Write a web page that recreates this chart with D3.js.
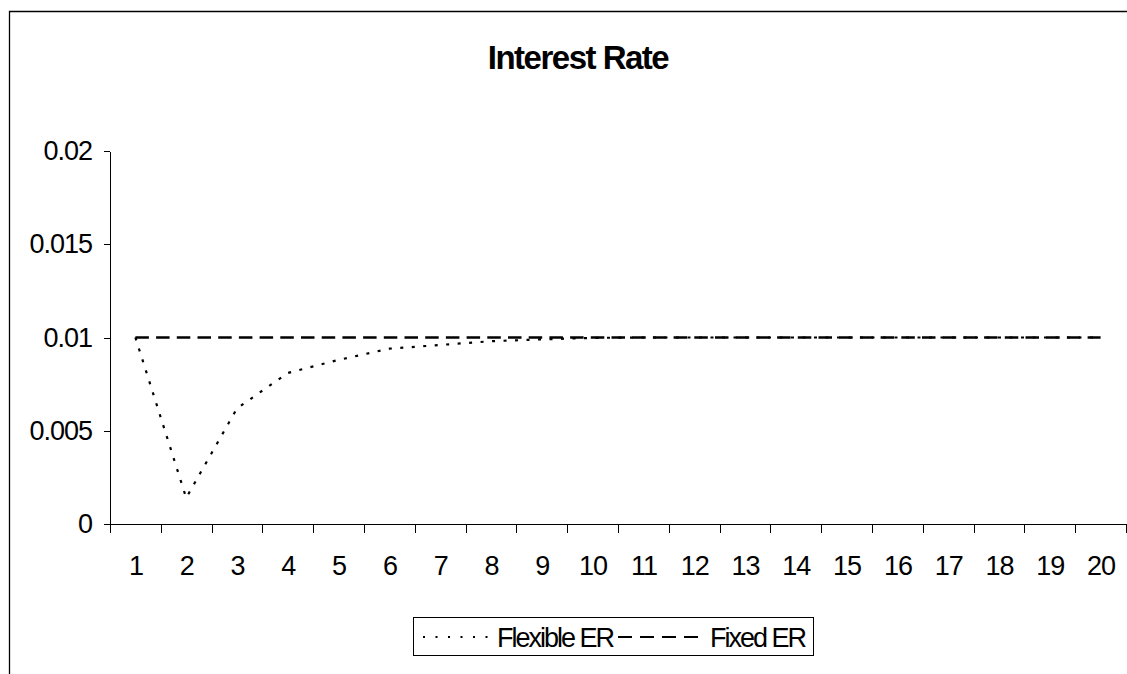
<!DOCTYPE html>
<html>
<head>
<meta charset="utf-8">
<script src="https://cdn.jsdelivr.net/npm/d3@7/dist/d3.min.js"></script>
<style>
  html, body { margin: 0; padding: 0; background: #fff; }
  svg { display: block; font-family: "Liberation Sans", Arial, sans-serif; }
</style>
</head>
<body>
<svg id="chart" width="1127" height="674"></svg>
<script>
// Periods shown along the horizontal axis
const periods = ["1","2","3","4","5","6","7","8","9","10","11","12","13","14","15","16","17","18","19","20"];

// Interest-rate paths under the two exchange-rate regimes
const flexibleER = [0.01, 0.0014, 0.0062, 0.0081, 0.0088, 0.0094, 0.0096, 0.0098, 0.0099, 0.00998,
                    0.01, 0.01, 0.01, 0.01, 0.01, 0.01, 0.01, 0.01, 0.01, 0.01];
const fixedER    = [0.01, 0.01, 0.01, 0.01, 0.01, 0.01, 0.01, 0.01, 0.01, 0.01,
                    0.01, 0.01, 0.01, 0.01, 0.01, 0.01, 0.01, 0.01, 0.01, 0.01];

const yTickValues = [0, 0.005, 0.01, 0.015, 0.02];
const yTickLabels = ["0", "0.005", "0.01", "0.015", "0.02"];

const seriesNames = ["Flexible ER", "Fixed ER"];
const chartTitle = "Interest Rate";

const svg = d3.select("#chart");

// Outer chart frame (top and left edges visible)
svg.append("path")
  .attr("d", "M9.5,674 V11.5 H1127")
  .attr("fill", "none")
  .attr("stroke", "#000")
  .attr("stroke-width", 1.3);

// Plot geometry
const plot = { left: 110, right: 1126, top: 151, bottom: 524 };

// Category positions: each period sits in the middle of its own slot
const x = d3.scaleLinear()
  .domain([0.5, periods.length + 0.5])
  .range([plot.left, plot.right]);

const y = d3.scaleLinear()
  .domain([0, 0.02])
  .range([plot.bottom, plot.top]);

// Title
svg.append("text")
  .attr("x", 578)
  .attr("y", 69)
  .attr("text-anchor", "middle")
  .attr("font-size", 33)
  .attr("font-weight", "bold")
  .attr("letter-spacing", -1.5)
  .text(chartTitle);

// Y axis
const yAxis = svg.append("g")
  .attr("transform", `translate(${plot.left},0)`)
  .call(d3.axisLeft(y)
    .tickValues(yTickValues)
    .tickFormat((d, i) => yTickLabels[i])
    .tickSize(6)
    .tickPadding(12)
    .tickSizeOuter(0));
yAxis.selectAll("text")
  .attr("font-size", 27)
  .attr("letter-spacing", -1)
  .attr("fill", "#000")
  .attr("font-family", "Liberation Sans, Arial, sans-serif");

// X axis: tick marks on the slot boundaries
const boundaries = d3.range(0, periods.length + 1).map(i => i + 0.5);
const xTicks = svg.append("g")
  .attr("transform", `translate(0,${plot.bottom})`)
  .call(d3.axisBottom(x)
    .tickValues(boundaries)
    .tickFormat("")
    .tickSize(9)
    .tickSizeOuter(0));

// X axis labels centred in each slot
const xLabels = svg.append("g")
  .attr("transform", `translate(0,${plot.bottom})`)
  .call(d3.axisBottom(x)
    .tickValues(periods.map((p, i) => i + 1))
    .tickFormat((d, i) => periods[i])
    .tickSize(0)
    .tickPadding(32));
xLabels.select(".domain").remove();
xLabels.selectAll("text")
  .attr("font-size", 27)
  .attr("letter-spacing", -1)
  .attr("fill", "#000")
  .attr("font-family", "Liberation Sans, Arial, sans-serif");

svg.selectAll(".domain, .tick line").attr("stroke", "#000").attr("shape-rendering", "crispEdges");

// Series lines
const line = d3.line()
  .x((d, i) => x(i + 1))
  .y(d => y(d));

svg.append("path")
  .datum(fixedER)
  .attr("d", line)
  .attr("fill", "none")
  .attr("stroke", "#000")
  .attr("stroke-width", 2.6)
  .attr("stroke-dasharray", "13.5,7.2");

svg.append("path")
  .datum(flexibleER)
  .attr("d", line)
  .attr("fill", "none")
  .attr("stroke", "#000")
  .attr("stroke-width", 2.2)
  .attr("stroke-dasharray", "3,8.5");

// Legend
const legend = svg.append("g");
legend.append("rect")
  .attr("x", 413.5)
  .attr("y", 617.5)
  .attr("width", 400)
  .attr("height", 38)
  .attr("fill", "#fff")
  .attr("stroke", "#000")
  .attr("stroke-width", 1);

legend.append("line")
  .attr("x1", 423).attr("x2", 489)
  .attr("y1", 637).attr("y2", 637)
  .attr("stroke", "#000")
  .attr("stroke-width", 2)
  .attr("stroke-dasharray", "2,10.5");

legend.append("text")
  .attr("x", 497)
  .attr("y", 647)
  .attr("font-size", 27)
  .attr("letter-spacing", -2)
  .text(seriesNames[0]);

legend.append("line")
  .attr("x1", 618).attr("x2", 703)
  .attr("y1", 637).attr("y2", 637)
  .attr("stroke", "#000")
  .attr("stroke-width", 2)
  .attr("stroke-dasharray", "14,8");

legend.append("text")
  .attr("x", 710)
  .attr("y", 647)
  .attr("font-size", 27)
  .attr("letter-spacing", -2)
  .text(seriesNames[1]);
</script>
</body>
</html>
